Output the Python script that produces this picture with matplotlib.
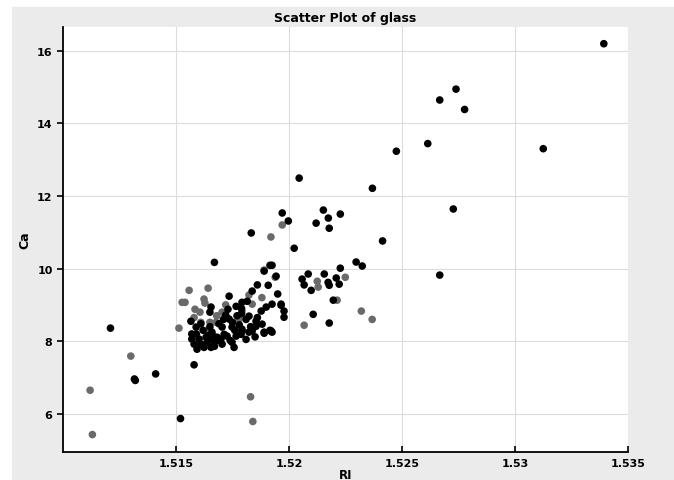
import matplotlib
matplotlib.use("Agg")
import matplotlib.pyplot as plt
from matplotlib.patches import Rectangle

# points drawn in black
ri_dark = [1.53393, 1.53125, 1.52667, 1.52739, 1.52777, 1.52614, 1.52475, 1.52727,
           1.52667, 1.52369, 1.52045, 1.5197, 1.51997, 1.52152, 1.52174, 1.52227,
           1.5212, 1.52178, 1.51833, 1.52023, 1.52414, 1.5167, 1.52297, 1.52324,
           1.52227, 1.51916, 1.52085, 1.52058, 1.52067, 1.52156, 1.52173, 1.52178,
           1.52209, 1.52222, 1.52098, 1.51965, 1.51978, 1.52107, 1.52196, 1.52178,
           1.51916, 1.5189, 1.5121, 1.51316, 1.5132, 1.5141, 1.5152, 1.5158,
           1.51566, 1.51589, 1.5157, 1.51602, 1.51633, 1.51659, 1.51682, 1.5158,
           1.5161, 1.51637, 1.51668, 1.51593, 1.51624, 1.51655, 1.51655, 1.5165,
           1.5189, 1.51943, 1.51908, 1.51735, 1.51837, 1.51925, 1.51965, 1.51978,
           1.51899, 1.51877, 1.51792, 1.51766, 1.51823, 1.51735, 1.51854, 1.51881,
           1.51704, 1.51748, 1.51792, 1.51837, 1.5189, 1.51925, 1.51659, 1.51713,
           1.51766, 1.51699, 1.51726, 1.51748, 1.51788, 1.51823, 1.51792, 1.51854,
           1.51921, 1.51704, 1.51757, 1.51925, 1.5186, 1.51815, 1.5169, 1.5172,
           1.5178, 1.5181, 1.5162, 1.5168, 1.5175, 1.5183, 1.5186, 1.5179,
           1.5164, 1.5171, 1.5159, 1.5167, 1.5174, 1.5177, 1.5185, 1.5195,
           1.5165, 1.5176, 1.5161, 1.5173, 1.5181, 1.5166, 1.5157, 1.5179]
ca_dark = [16.19, 13.30, 14.64, 14.94, 14.38, 13.44, 13.23, 11.64,
           9.82, 12.21, 12.49, 11.53, 11.31, 11.61, 11.39, 11.50,
           11.25, 11.11, 10.98, 10.56, 10.76, 10.17, 10.18, 10.07,
           10.01, 10.09, 9.85, 9.71, 9.55, 9.85, 9.62, 9.54,
           9.74, 9.57, 9.40, 8.99, 8.66, 8.74, 9.13, 8.50,
           8.30, 8.22, 8.36, 6.96, 6.92, 7.10, 5.87, 7.35,
           8.55, 8.39, 8.06, 8.06, 8.11, 8.19, 8.11, 7.92,
           7.92, 7.97, 7.97, 7.78, 7.83, 7.83, 8.94, 8.80,
           9.93, 9.79, 9.54, 9.24, 9.38, 9.02, 9.02, 8.83,
           8.94, 8.83, 9.07, 8.96, 8.69, 8.61, 8.55, 8.47,
           8.39, 8.39, 8.28, 8.28, 8.25, 8.25, 8.25, 8.19,
           8.14, 8.06, 8.14, 7.97, 8.19, 8.25, 8.33, 8.41,
           8.28, 7.92, 7.83, 10.09, 9.55, 9.10, 8.48, 8.72,
           8.45, 8.60, 8.30, 8.02, 8.52, 8.40, 8.65, 8.90,
           8.15, 8.60, 8.20, 7.86, 8.02, 8.70, 8.12, 9.30,
           8.40, 8.30, 8.48, 8.88, 8.05, 8.05, 8.20, 8.76]

# points drawn in grey
ri_light = [1.51558, 1.51642, 1.5154, 1.51527, 1.51624, 1.51628, 1.51606, 1.51513,
            1.5161, 1.5165, 1.51823, 1.51837, 1.51792, 1.51704, 1.51779, 1.51677,
            1.51646, 1.51584, 1.5192, 1.5197, 1.5189, 1.51939, 1.52125, 1.52129,
            1.52249, 1.52213, 1.5232, 1.52368, 1.52067, 1.5130, 1.5183, 1.5184,
            1.5112, 1.5113, 1.5188, 1.5172, 1.5168, 1.5158]
ca_light = [9.40, 9.46, 9.07, 9.07, 9.16, 9.05, 8.80, 8.36,
            8.52, 8.52, 9.27, 9.02, 8.83, 8.80, 8.61, 8.52,
            8.33, 8.88, 10.87, 11.20, 9.96, 9.76, 9.65, 9.49,
            9.76, 9.13, 8.83, 8.60, 8.44, 7.59, 6.47, 5.79,
            6.65, 5.43, 9.20, 9.00, 8.70, 8.65]

x_ticks = [1.515, 1.52, 1.525, 1.53, 1.535]
x_labels = ["1.515", "1.52", "1.525", "1.53", "1.535"]
y_ticks = [6, 8, 10, 12, 14, 16]

fig = plt.figure(figsize=(6.74, 4.81), dpi=100)
fig.add_artist(Rectangle((12 / 674, 1 / 481), 1 - 12 / 674, 472 / 481,
                         transform=fig.transFigure, color="#ebebeb", zorder=-1))
ax = fig.add_axes([63 / 674, 28 / 481, 565 / 674, 425 / 481])

ax.scatter(ri_light, ca_light, s=30, color="#6a6a6a", edgecolors="none", zorder=3)
ax.scatter(ri_dark, ca_dark, s=30, color="black", edgecolors="none", zorder=4)

ax.set_xlim(1.51, 1.535)
ax.set_ylim(4.95, 16.65)
ax.set_xticks(x_ticks)
ax.set_xticklabels(x_labels)
ax.set_yticks(y_ticks)
ax.grid(True, color="#dcdcdc", linewidth=0.8)
ax.set_axisbelow(True)

for side in ["top", "right"]:
    ax.spines[side].set_visible(False)
for side in ["left", "bottom"]:
    ax.spines[side].set_linewidth(1.3)
ax.tick_params(axis="x", direction="in", length=4, width=1.2, pad=4)
ax.tick_params(axis="y", direction="out", length=4, width=1.2)
for lab in ax.get_xticklabels() + ax.get_yticklabels():
    lab.set_fontweight("bold")
    lab.set_fontsize(8)

ax.set_title("Scatter Plot of glass", fontsize=9, fontweight="bold", pad=4)
ax.set_xlabel("RI", fontsize=8.5, fontweight="bold", va="center")
ax.xaxis.set_label_coords(0.5, -0.054)
ax.set_ylabel("Ca", fontsize=9, fontweight="bold", labelpad=4)

fig.savefig("out.png", dpi=100)
